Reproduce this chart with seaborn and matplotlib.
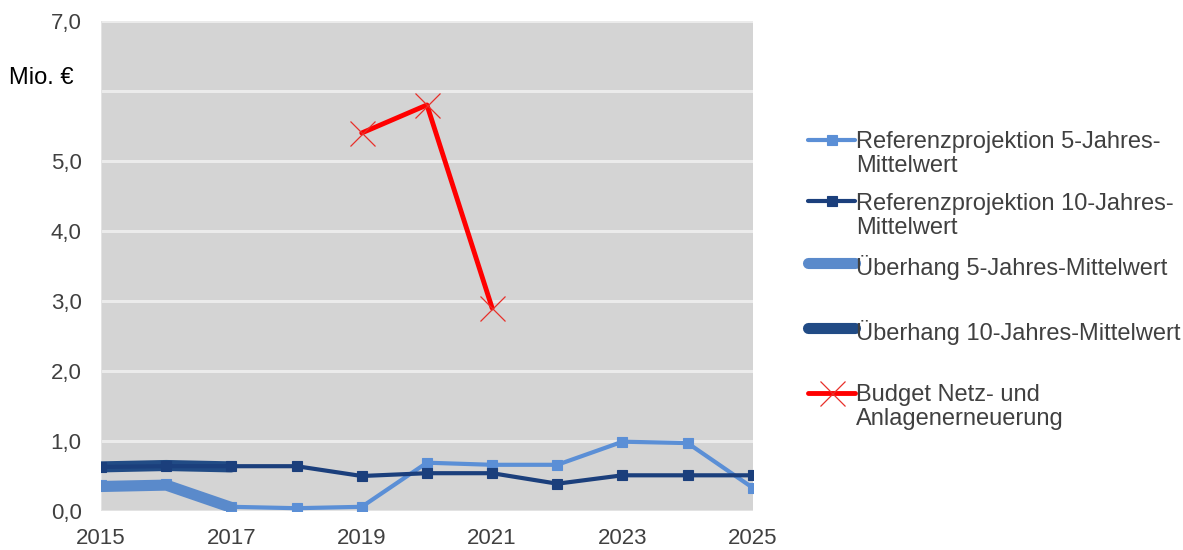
import matplotlib
matplotlib.use("Agg")
import matplotlib.pyplot as plt
import seaborn as sns

# Jahreswerte in Mio. €
years = list(range(2015, 2026))
ref5 = [0.37, 0.39, 0.06, 0.04, 0.06, 0.69, 0.66, 0.66, 0.99, 0.97, 0.33]
ref10 = [0.63, 0.64, 0.64, 0.64, 0.50, 0.54, 0.54, 0.39, 0.51, 0.51, 0.51]
over_years = [2015, 2016, 2017]
over5 = [0.35, 0.37, 0.05]
over10 = [0.63, 0.65, 0.63]
budget_years = [2019, 2020, 2021]
budget = [5.40, 5.80, 2.90]

labels = [
    "Referenzprojektion 5-Jahres-\nMittelwert",
    "Referenzprojektion 10-Jahres-\nMittelwert",
    "Überhang 5-Jahres-Mittelwert\n ",
    "Überhang 10-Jahres-Mittelwert\n ",
    "Budget Netz- und\nAnlagenerneuerung",
]
y_ticks = [0, 1, 2, 3, 4, 5, 7]
y_ticklabels = ["0,0", "1,0", "2,0", "3,0", "4,0", "5,0", "7,0"]
x_ticks = [2015, 2017, 2019, 2021, 2023, 2025]

sns.set_theme(style="white")
plt.rcParams["font.family"] = ["Liberation Sans", "DejaVu Sans"]
text_col = "#404040"

fig = plt.figure(figsize=(11.83, 5.5), dpi=100)
ax = fig.add_axes([0.0854, 0.0709, 0.551, 0.891])
ax.set_facecolor("#D4D4D4")

c_ref5 = "#5B8FD6"
c_ref10 = "#1B3F7C"
c_over5 = "#5A8ACB"
c_over10 = "#214B85"

sns.lineplot(x=over_years, y=over5, ax=ax, color=c_over5, linewidth=8,
             solid_capstyle="round", label=labels[2], zorder=3)
sns.lineplot(x=over_years, y=over10, ax=ax, color=c_over10, linewidth=8,
             solid_capstyle="round", label=labels[3], zorder=3)
sns.lineplot(x=years, y=ref5, ax=ax, color=c_ref5, linewidth=3,
             marker="s", markersize=6.5, markeredgewidth=0.8,
             markeredgecolor=c_ref5, label=labels[0], zorder=2)
sns.lineplot(x=years, y=ref10, ax=ax, color=c_ref10, linewidth=3,
             marker="s", markersize=6.5, markeredgewidth=0.8,
             markeredgecolor=c_ref10, label=labels[1], zorder=4)
sns.lineplot(x=budget_years, y=budget, ax=ax, color="#FF0000", linewidth=3.5,
             marker="x", markersize=18, markeredgewidth=0.9,
             markeredgecolor="#E8302A", label=labels[4], zorder=5)

ax.set_xlim(2015, 2025)
ax.set_ylim(0, 7)
ax.set_yticks(y_ticks)
ax.set_yticklabels(y_ticklabels)
ax.set_xticks(x_ticks)
ax.set_xticklabels([str(x) for x in x_ticks])
for yv in range(1, 8):
    ax.axhline(yv, color="#EBEBEB", linewidth=2.2, zorder=1)
ax.axhline(0, color="#E3E3E3", linewidth=2.2, zorder=1)
ax.tick_params(axis="both", labelsize=16, colors=text_col, length=0)
ax.tick_params(axis="y", pad=14)
ax.tick_params(axis="x", pad=12)
for s in ax.spines.values():
    s.set_visible(False)
ax.axvline(2015, color="#E3E3E3", linewidth=1.5, zorder=1)
ax.set_xlabel("")
ax.set_ylabel("")

fig.text(0.008, 0.858, "Mio. €", fontsize=17, color="#000000", va="center", ha="left")

handles, labs = ax.get_legend_handles_labels()
order = [labs.index(l) for l in labels]
leg = ax.legend([handles[i] for i in order], [labs[i] for i in order],
                loc="upper left", bbox_to_anchor=(0.683, 0.761),
                bbox_transform=fig.transFigure, frameon=False,
                fontsize=17, handlelength=2.0, handletextpad=0.05,
                labelspacing=0.68, labelcolor=text_col,
                borderpad=0, borderaxespad=0)
for t in leg.get_texts():
    t.set_linespacing(1.1)
# put each legend handle beside the first line of its label
for col in leg._legend_handle_box.get_children():
    for item in col.get_children():
        item.align = "top"

fig.savefig("out.png", dpi=100)
